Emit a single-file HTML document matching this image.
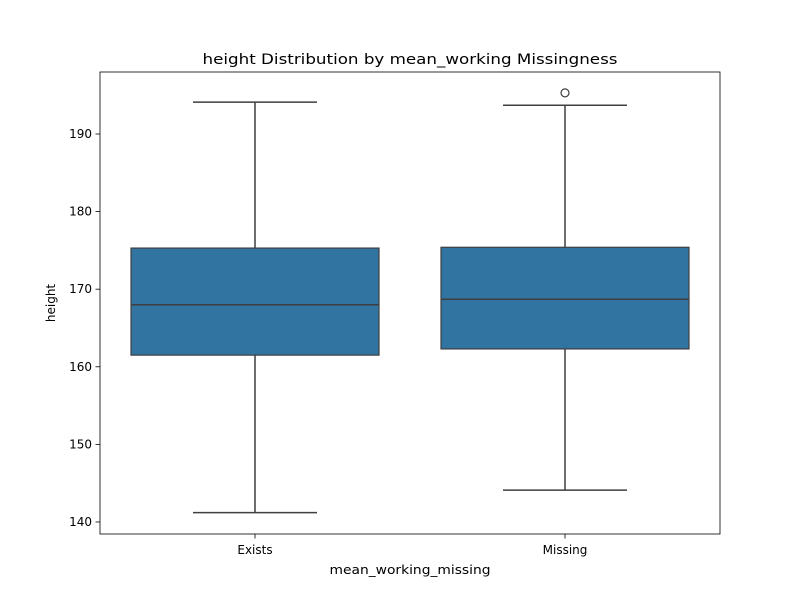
<!DOCTYPE html>
<html><head><meta charset="utf-8">
<style>
html,body{margin:0;padding:0;background:#fff;}
svg{display:block;font-family:"DejaVu Sans","Liberation Sans",sans-serif;}
</style></head>
<body>
<svg id="chart" width="800" height="600" viewBox="0 0 800 600">
<rect width="800" height="600" fill="#fff"/>
<text x="410" y="64" text-anchor="middle" font-size="14.4" textLength="415" lengthAdjust="spacingAndGlyphs" fill="#000">height Distribution by mean_working Missingness</text>
<g id="plot"></g>
<text x="410" y="574" text-anchor="middle" font-size="12" textLength="161" lengthAdjust="spacingAndGlyphs" fill="#000">mean_working_missing</text>
<text x="0" y="0" transform="translate(55,303) rotate(-90)" text-anchor="middle" font-size="12" fill="#000">height</text>
</svg>
<script>
const categories = ["Exists", "Missing"];
const whiskerLow = [141.2, 144.1];
const q1 = [161.5, 162.3];
const median = [168.0, 168.7];
const q3 = [175.3, 175.4];
const whiskerHigh = [194.1, 193.7];
const outliers = [[], [195.3]];
const yTicks = [140, 150, 160, 170, 180, 190];

const L = 100, R = 720, T = 72, B = 534;
const yMin = 138.45, yMax = 197.99;
const y = v => B - (v - yMin) / (yMax - yMin) * (B - T);
const x = i => L + (i + 0.5) / categories.length * (R - L);
const step = (R - L) / categories.length;
const ns = "http://www.w3.org/2000/svg";
const g = document.getElementById("plot");
function mk(tag, attrs) {
  const e = document.createElementNS(ns, tag);
  for (const k in attrs) e.setAttribute(k, attrs[k]);
  g.appendChild(e);
  return e;
}
const lc = "#3f3f3f";
categories.forEach((c, i) => {
  const cx = x(i), bw = step * 0.8, cw = bw / 2;
  let e;
  e = mk("line", {x1: cx, x2: cx, y1: y(whiskerHigh[i]), y2: y(q3[i]), stroke: lc, "stroke-width": 1.5});
  
  
  e = mk("line", {x1: cx, x2: cx, y1: y(q1[i]), y2: y(whiskerLow[i]), stroke: lc, "stroke-width": 1.5});
  
  
  e = mk("line", {x1: cx - cw / 2, x2: cx + cw / 2, y1: y(whiskerHigh[i]), y2: y(whiskerHigh[i]), stroke: lc, "stroke-width": 1.5});
  
  
  e = mk("line", {x1: cx - cw / 2, x2: cx + cw / 2, y1: y(whiskerLow[i]), y2: y(whiskerLow[i]), stroke: lc, "stroke-width": 1.5});
  
  
  e = mk("rect", {x: cx - bw / 2, y: y(q3[i]), width: bw, height: y(q1[i]) - y(q3[i]), fill: "#3274a1", stroke: lc, "stroke-width": 1.2});
  
  
  e = mk("line", {x1: cx - bw / 2, x2: cx + bw / 2, y1: y(median[i]), y2: y(median[i]), stroke: lc, "stroke-width": 1.5});
  
  
  outliers[i].forEach(v => {
    const o = mk("circle", {cx: cx, cy: y(v), r: 4, fill: "none", stroke: lc, "stroke-width": 1.2});
    
    
  });
  e = mk("line", {x1: cx, x2: cx, y1: B, y2: B + 4.5, stroke: "#000", "stroke-width": 0.8});
  
  
  e = mk("text", {x: cx, y: B + 20, "text-anchor": "middle", "font-size": 12, fill: "#000"});
  e.textContent = c;
  
  
});
yTicks.forEach(v => {
  let e = mk("line", {x1: L - 4.5, x2: L, y1: y(v), y2: y(v), stroke: "#000", "stroke-width": 0.8});
  
  
  e = mk("text", {x: L - 8, y: y(v) + 4, "text-anchor": "end", "font-size": 12, fill: "#000"});
  e.textContent = v;
  
  
});
const frame = mk("rect", {x: L, y: T, width: R - L, height: B - T, fill: "none", stroke: "#000", "stroke-width": 0.8});


</script>
</body></html>
